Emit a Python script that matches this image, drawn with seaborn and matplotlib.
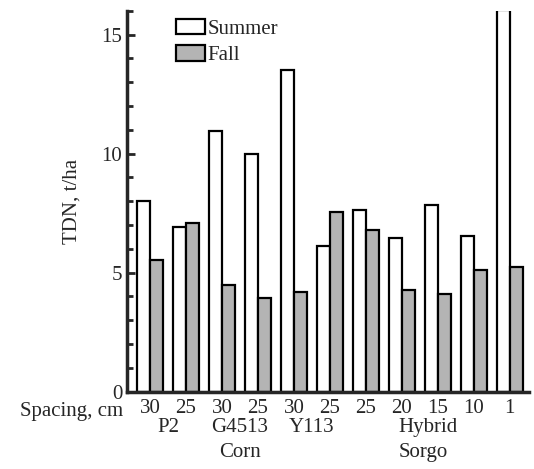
import numpy as np
import pandas as pd
import matplotlib
matplotlib.use('Agg')
import matplotlib.pyplot as plt
import seaborn as sns
from matplotlib.ticker import MultipleLocator

sns.set_theme(style='ticks')
plt.rcParams['font.family'] = ['Liberation Serif', 'DejaVu Serif']

spacing = ['30', '25', '30', '25', '30', '25', '25', '20', '15', '10', '1']
summer = [8.0, 6.9, 10.95, 10.0, 13.5, 6.1, 7.65, 6.45, 7.85, 6.55, 16.05]
fall = [5.55, 7.1, 4.5, 3.95, 4.2, 7.55, 6.8, 4.25, 4.1, 5.1, 5.25]
cultivars = ['P2', 'G4513\nCorn', 'Y113', 'Hybrid\nSorgo']
cultivar_pos = [0.5, 2.5, 4.5, 6.9]

n = len(spacing)
df = pd.DataFrame({
    'idx': list(range(n)) * 2,
    'TDN': summer + fall,
    'Season': ['Summer'] * n + ['Fall'] * n,
})

fs = 15
fig, ax = plt.subplots(figsize=(5.34, 4.69), dpi=100)
sns.barplot(data=df, x='idx', y='TDN', hue='Season',
            palette={'Summer': 'white', 'Fall': '#b4b4b4'},
            width=0.72, edgecolor='black', linewidth=1.6, ax=ax)

ax.set_xlim(-0.64, 10.53)
ax.set_ylim(0, 16)
ax.yaxis.set_major_locator(MultipleLocator(5))
ax.yaxis.set_minor_locator(MultipleLocator(1))
ax.tick_params(axis='y', which='major', direction='in', length=6, width=2, labelsize=fs)
ax.tick_params(axis='y', which='minor', direction='in', length=4, width=2)
ax.tick_params(axis='x', length=0, labelsize=fs, pad=5)
ax.set_xticks(range(n))
ax.set_xticklabels(spacing)
ax.set_xlabel('')
ax.set_ylabel('TDN, t/ha', fontsize=fs, labelpad=14)
sns.despine(ax=ax)
for s in ('left', 'bottom'):
    ax.spines[s].set_linewidth(2.5)

ax.text(-0.75, -0.45, 'Spacing, cm', ha='right', va='top', fontsize=fs)
for lab, pos in zip(cultivars, cultivar_pos):
    ax.text(pos, -1.1, lab, ha='left' if 'Hybrid' in lab else 'center', va='top',
            fontsize=fs, linespacing=1.45)

leg = ax.legend(loc='upper left', bbox_to_anchor=(0.1, 1.0), frameon=False,
                fontsize=fs, handlelength=1.4, handleheight=0.75,
                handletextpad=0.15, labelspacing=0.3, borderaxespad=0)

fig.subplots_adjust(left=0.238, right=0.99, top=0.977, bottom=0.165)
fig.savefig('out.png', dpi=100)
